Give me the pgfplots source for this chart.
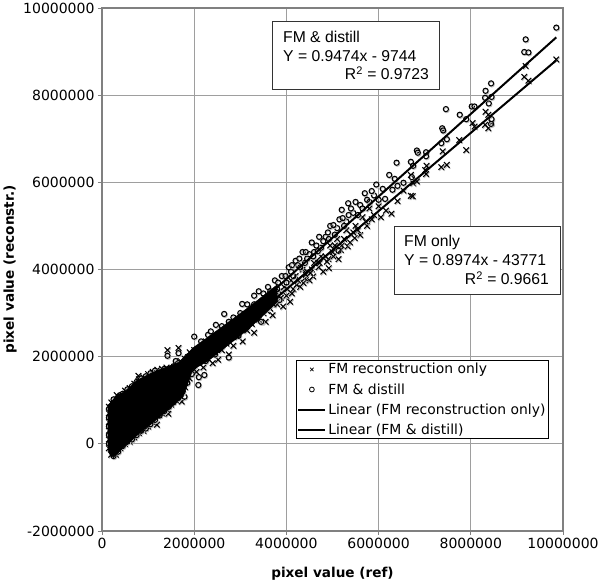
\documentclass[border=0pt]{standalone}
\usepackage{fontspec}
\setmainfont{DejaVu Sans}
\newfontfamily\arialf{Liberation Sans}
\usepackage{pgfplots}
\pgfplotsset{compat=1.18}
\makeatletter
\pgfdeclareplotmark{sx}{%
  \pgfsetlinewidth{1.05pt}%
  \begin{pgfscope}\pgfsetstrokecolor{black!25}\pgftransformshift{\pgfqpoint{0.7pt}{-1pt}}%
    \pgfpathmoveto{\pgfqpoint{-\pgfplotmarksize}{-\pgfplotmarksize}}\pgfpathlineto{\pgfqpoint{\pgfplotmarksize}{\pgfplotmarksize}}%
    \pgfpathmoveto{\pgfqpoint{-\pgfplotmarksize}{\pgfplotmarksize}}\pgfpathlineto{\pgfqpoint{\pgfplotmarksize}{-\pgfplotmarksize}}%
    \pgfusepathqstroke
  \end{pgfscope}%
  \pgfsetstrokecolor{black}%
  \pgfpathmoveto{\pgfqpoint{-\pgfplotmarksize}{-\pgfplotmarksize}}\pgfpathlineto{\pgfqpoint{\pgfplotmarksize}{\pgfplotmarksize}}%
  \pgfpathmoveto{\pgfqpoint{-\pgfplotmarksize}{\pgfplotmarksize}}\pgfpathlineto{\pgfqpoint{\pgfplotmarksize}{-\pgfplotmarksize}}%
  \pgfusepathqstroke
}
\pgfdeclareplotmark{so}{%
  \pgfsetlinewidth{1.05pt}%
  \begin{pgfscope}\pgfsetstrokecolor{black!25}\pgftransformshift{\pgfqpoint{0.7pt}{-1pt}}%
    \pgfpathcircle{\pgfpointorigin}{\pgfplotmarksize}\pgfusepathqstroke
  \end{pgfscope}%
  \pgfsetstrokecolor{black}%
  \pgfpathcircle{\pgfpointorigin}{\pgfplotmarksize}\pgfusepathqstroke
}
\makeatother
\begin{document}
\begin{tikzpicture}
\path[use as bounding box] (-102pt,-52pt) rectangle (498pt,531pt);
\begin{axis}[
  scale only axis, width=461pt, height=523pt,
  xmin=0, xmax=10000000, ymin=-2000000, ymax=10000000,
  xtick={0,2000000,4000000,6000000,8000000,10000000},
  ytick={-2000000,0,2000000,4000000,6000000,8000000,10000000},
  xticklabels={0,2000000,4000000,6000000,8000000,10000000},
  yticklabels={-2000000,0,2000000,4000000,6000000,8000000,10000000},
  scaled ticks=false,
  tick label style={font=\fontsize{14}{16}\selectfont},
  tick align=outside, tick pos=left, major tick length=4pt,
  tick style={black!50,line width=0.8pt},
  grid=major, grid style={black!38,line width=0.8pt},
  axis line style={black!50,line width=1.1pt},
  axis on top=false,
  xlabel={\bfseries pixel value (ref)}, ylabel={\bfseries pixel value (reconstr.)},
  label style={font=\fontsize{13.6}{16}\selectfont\bfseries},
  xlabel style={at={(axis description cs:0.5,0)},anchor=base,yshift=-47pt},
  ylabel style={at={(axis description cs:0,0.5)},anchor=base,yshift=88pt},
  clip=false, clip marker paths=true,
  legend style={at={(0.4208,0.327)},anchor=north west,draw=black,line width=0.9pt,fill=white,
    font=\fontsize{13.9}{16}\selectfont,inner sep=1pt,row sep=4pt,
    /tikz/every even column/.append style={column sep=3pt}},
  legend cell align=left,
  legend image code/.code={\draw[mark repeat=2,mark phase=2,#1] plot coordinates {(0pt,0pt)(13.5pt,0pt)(27pt,0pt)};},
]
\addlegendimage{only marks,mark=x,mark size=2.4pt,line width=0.8pt,black}
\addlegendentry{FM reconstruction only}
\addlegendimage{only marks,mark=o,mark size=2.4pt,line width=0.8pt,black}
\addlegendentry{FM \& distill}
\addlegendimage{black,line width=1.9pt}
\addlegendentry{Linear (FM reconstruction only)}
\addlegendimage{black,line width=1.9pt}
\addlegendentry{Linear (FM \& distill)}

% FM reconstruction only
\addplot[forget plot,only marks,mark=sx,mark size=2.8pt] coordinates {
(.15e6,-.1e6)(.15e6,.1e6)(.15e6,.3e6)(.15e6,.5e6)(.15e6,.7e6)(.15e6,.85e6)
(.2e6,-.25e6)(.2e6,-.05e6)(.2e6,.15e6)(.2e6,.35e6)(.2e6,.55e6)(.2e6,.75e6)(.2e6,.95e6)
(.3e6,-.25e6)(.3e6,-.05e6)(.3e6,.15e6)(.3e6,.35e6)(.3e6,.55e6)(.3e6,.75e6)(.3e6,.95e6)(.32e6,1.12e6)
(.4e6,-.1e6)(.4e6,.1e6)(.4e6,.3e6)(.4e6,.5e6)(.4e6,.7e6)(.4e6,.9e6)(.4e6,1.1e6)
(.5e6,0e6)(.5e6,.2e6)(.5e6,.4e6)(.5e6,.6e6)(.5e6,.8e6)(.5e6,1.0e6)(.5e6,1.22e6)
(.6e6,.05e6)(.6e6,.25e6)(.6e6,.45e6)(.6e6,.65e6)(.6e6,.85e6)(.6e6,1.05e6)(.6e6,1.28e6)
(.7e6,.15e6)(.7e6,.35e6)(.7e6,.55e6)(.7e6,.75e6)(.7e6,.95e6)(.7e6,1.15e6)(.7e6,1.38e6)
(.79e6,1.56e6)
(.8e6,.25e6)(.8e6,.45e6)(.8e6,.65e6)(.8e6,.85e6)(.8e6,1.05e6)(.8e6,1.25e6)(.8e6,1.48e6)
(.9e6,.3e6)(.9e6,.5e6)(.9e6,.7e6)(.9e6,.9e6)(.9e6,1.1e6)(.9e6,1.3e6)(.9e6,1.52e6)
(1.0e6,.4e6)(1.0e6,.6e6)(1.0e6,.8e6)(1.0e6,1.0e6)(1.0e6,1.2e6)(1.0e6,1.4e6)(1.0e6,1.6e6)
(1.1e6,.5e6)(1.1e6,.7e6)(1.1e6,.9e6)(1.1e6,1.1e6)(1.1e6,1.3e6)(1.1e6,1.5e6)(1.1e6,1.65e6)
(1.19e6,.44e6)(1.2e6,.65e6)(1.2e6,.85e6)(1.2e6,1.05e6)(1.2e6,1.25e6)(1.2e6,1.45e6)(1.2e6,1.7e6)
(1.3e6,.7e6)(1.3e6,.9e6)(1.3e6,1.1e6)(1.3e6,1.3e6)(1.3e6,1.5e6)(1.3e6,1.72e6)
(1.4e6,.8e6)(1.4e6,1.0e6)(1.4e6,1.2e6)(1.4e6,1.4e6)(1.4e6,1.6e6)(1.4e6,1.75e6)
(1.44e6,.69e6)(1.42e6,2.15e6)
(1.5e6,.9e6)(1.5e6,1.1e6)(1.5e6,1.3e6)(1.5e6,1.5e6)(1.5e6,1.7e6)
(1.6e6,1.0e6)(1.6e6,1.2e6)(1.6e6,1.4e6)(1.6e6,1.6e6)(1.6e6,1.82e6)
(1.66e6,2.2e6)(1.73e6,.97e6)
(1.7e6,1.1e6)(1.7e6,1.3e6)(1.7e6,1.5e6)(1.7e6,1.7e6)(1.7e6,1.9e6)
(1.8e6,1.3e6)(1.8e6,1.5e6)(1.8e6,1.7e6)(1.8e6,1.95e6)
(1.9e6,1.5e6)(1.9e6,1.7e6)(1.9e6,1.9e6)(1.9e6,2.1e6)
(2.0e6,1.7e6)(2.0e6,1.9e6)(2.0e6,2.15e6)
(2.05e6,1.65e6)(2.05e6,2.05e6)(2.1e6,1.85e6)(2.15e6,2.2e6)(2.2e6,1.75e6)(2.2e6,2.0e6)(2.25e6,2.35e6)(2.3e6,1.95e6)(2.35e6,2.2e6)(2.4e6,1.85e6)(2.4e6,2.45e6)(2.45e6,2.1e6)(2.52e6,1.93e6)(2.55e6,2.35e6)(2.6e6,2.15e6)(2.65e6,2.55e6)(2.7e6,2.3e6)(2.75e6,2.05e6)(2.8e6,2.5e6)(2.85e6,2.25e6)(2.9e6,2.7e6)(2.95e6,2.45e6)(3.0e6,2.65e6)(3.05e6,2.35e6)(3.1e6,2.85e6)(3.15e6,2.6e6)(3.2e6,2.95e6)(3.25e6,2.75e6)(3.3e6,2.55e6)(3.35e6,3.05e6)(3.4e6,2.85e6)(3.45e6,3.2e6)(3.5e6,3.0e6)(3.55e6,2.8e6)(3.6e6,3.3e6)(3.65e6,3.1e6)(3.7e6,2.95e6)(3.75e6,3.4e6)(3.8e6,3.2e6)(3.85e6,3.5e6)(3.93e6,3.15e6)(3.95e6,3.6e6)(4.0e6,3.4e6)(4.08e6,3.26e6)(4.1e6,3.75e6)(4.15e6,3.55e6)(4.2e6,3.85e6)(4.3e6,3.6e6)(4.37e6,3.69e6)(4.35e6,4.0e6)(4.45e6,3.95e6)(4.5e6,3.75e6)(4.58e6,3.84e6)(4.6e6,4.15e6)(4.7e6,4.05e6)(4.75e6,4.3e6)(4.8e6,3.95e6)(4.91e6,4.24e6)(4.92e6,4.03e6)(4.95e6,4.55e6)(5.0e6,4.4e6)(5.13e6,4.24e6)(5.1e6,4.7e6)(5.2e6,4.55e6)(5.33e6,4.53e6)(5.3e6,4.9e6)(5.4e6,4.8e6)(5.5e6,5.0e6)(5.6e6,4.79e6)(5.55e6,4.9e6)(5.65e6,5.2e6)(5.75e6,5.0e6)(5.8e6,5.4e6)(5.9e6,5.25e6)(6.0e6,5.45e6)(6.05e6,5.2e6)
(3.25e6,2.95e6)(3.42e6,3.05e6)(3.58e6,3.05e6)(3.72e6,3.2e6)(3.88e6,3.35e6)(4.02e6,3.55e6)(4.22e6,3.65e6)(4.4e6,3.8e6)(4.55e6,4.0e6)(4.65e6,4.2e6)(4.85e6,4.3e6)(5.05e6,4.55e6)(5.25e6,4.7e6)(5.45e6,4.85e6)
(4.12e6,3.45e6)(4.25e6,3.75e6)(4.42e6,3.88e6)(4.52e6,3.92e6)(4.72e6,4.15e6)(4.88e6,4.18e6)(5.02e6,4.3e6)(5.18e6,4.45e6)(5.38e6,4.62e6)(5.48e6,4.72e6)(5.72e6,5.1e6)(5.85e6,5.15e6)
(6.16e6,5.35e6)(6.28e6,5.28e6)(6.41e6,5.57e6)(6.54e6,5.81e6)(6.70e6,5.69e6)(6.74e6,5.68e6)(6.75e6,5.98e6)(6.83e6,6.02e6)(6.70e6,6.17e6)(7.04e6,6.38e6)(7.01e6,6.28e6)(7.03e6,6.19e6)(7.36e6,6.35e6)(7.48e6,6.40e6)(7.39e6,6.71e6)(7.90e6,6.74e6)(7.75e6,6.97e6)(8.04e6,7.36e6)(8.08e6,7.28e6)(8.31e6,7.32e6)(8.38e6,7.24e6)(8.45e6,7.37e6)(8.32e6,7.62e6)(8.38e6,7.55e6)(9.16e6,8.42e6)(9.25e6,8.33e6)(9.19e6,8.67e6)(9.855e6,8.82e6)
};
% FM & distill
\addplot[forget plot,only marks,mark=so,mark size=2.6pt] coordinates {
(.15e6,0e6)(.15e6,.2e6)(.15e6,.4e6)(.15e6,.6e6)(.15e6,.8e6)
(.25e6,-.28e6)(.25e6,-.1e6)(.25e6,.1e6)(.25e6,.3e6)(.25e6,.5e6)(.25e6,.7e6)(.25e6,.9e6)(.25e6,1.02e6)
(.35e6,-.18e6)(.35e6,.05e6)(.35e6,.25e6)(.35e6,.45e6)(.35e6,.65e6)(.35e6,.85e6)(.35e6,1.05e6)
(.45e6,-.05e6)(.45e6,.15e6)(.45e6,.35e6)(.45e6,.55e6)(.45e6,.75e6)(.45e6,.95e6)(.45e6,1.15e6)
(.55e6,.05e6)(.55e6,.3e6)(.55e6,.5e6)(.55e6,.7e6)(.55e6,.9e6)(.55e6,1.1e6)(.55e6,1.25e6)
(.65e6,.1e6)(.65e6,.35e6)(.65e6,.55e6)(.65e6,.75e6)(.65e6,.95e6)(.65e6,1.15e6)(.65e6,1.32e6)
(.75e6,.2e6)(.75e6,.45e6)(.75e6,.65e6)(.75e6,.85e6)(.75e6,1.05e6)(.75e6,1.25e6)(.75e6,1.42e6)
(.85e6,.3e6)(.85e6,.55e6)(.85e6,.75e6)(.85e6,.95e6)(.85e6,1.15e6)(.85e6,1.35e6)(.85e6,1.5e6)
(.95e6,.35e6)(.95e6,.5e6)(.95e6,.7e6)(.95e6,.95e6)(.95e6,1.15e6)(.95e6,1.35e6)(.95e6,1.55e6)
(1.05e6,.45e6)(1.05e6,.65e6)(1.05e6,.85e6)(1.05e6,1.05e6)(1.05e6,1.25e6)(1.05e6,1.45e6)(1.05e6,1.62e6)
(1.15e6,.55e6)(1.15e6,.75e6)(1.15e6,.95e6)(1.15e6,1.15e6)(1.15e6,1.35e6)(1.15e6,1.55e6)(1.15e6,1.68e6)
(1.25e6,.65e6)(1.25e6,.8e6)(1.25e6,1.0e6)(1.25e6,1.2e6)(1.25e6,1.4e6)(1.25e6,1.6e6)
(1.35e6,.75e6)(1.35e6,.95e6)(1.35e6,1.15e6)(1.35e6,1.35e6)(1.35e6,1.55e6)(1.35e6,1.72e6)
(1.42e6,2.02e6)(1.45e6,.85e6)(1.45e6,1.05e6)(1.45e6,1.25e6)(1.45e6,1.45e6)(1.45e6,1.65e6)
(1.55e6,.95e6)(1.55e6,1.15e6)(1.55e6,1.35e6)(1.55e6,1.55e6)(1.55e6,1.78e6)
(1.6e6,1.9e6)(1.66e6,2.08e6)(1.79e6,1.08e6)
(1.65e6,1.05e6)(1.65e6,1.25e6)(1.65e6,1.45e6)(1.65e6,1.65e6)(1.65e6,1.85e6)
(1.75e6,1.2e6)(1.75e6,1.4e6)(1.75e6,1.6e6)(1.75e6,1.8e6)
(1.85e6,1.4e6)(1.85e6,1.6e6)(1.85e6,1.8e6)(1.85e6,2.0e6)
(1.95e6,1.6e6)(1.95e6,1.8e6)(1.95e6,2.0e6)
(2.0e6,2.46e6)(2.05e6,1.9e6)(2.09e6,1.35e6)(2.1e6,1.53e6)(2.1e6,2.2e6)(2.15e6,2.35e6)(2.22e6,1.58e6)(2.2e6,2.05e6)(2.25e6,1.9e6)(2.3e6,2.5e6)(2.36e6,2.58e6)(2.35e6,2.15e6)(2.4e6,2.35e6)(2.47e6,2.73e6)(2.45e6,2.05e6)(2.5e6,2.5e6)(2.55e6,2.25e6)(2.65e6,2.98e6)(2.6e6,2.7e6)(2.7e6,2.4e6)(2.75e6,1.98e6)(2.75e6,2.8e6)(2.8e6,2.65e6)(2.85e6,2.9e6)(2.9e6,2.55e6)(2.96e6,2.48e6)(3.0e6,3.0e6)(3.04e6,3.21e6)(3.1e6,2.8e6)(3.15e6,3.2e6)(3.2e6,3.05e6)(3.25e6,2.85e6)(3.3e6,3.4e6)(3.35e6,3.15e6)(3.45e6,2.8e6)(3.4e6,3.5e6)(3.5e6,3.3e6)(3.55e6,3.1e6)(3.6e6,3.6e6)(3.7e6,3.4e6)(3.75e6,3.75e6)(3.8e6,3.55e6)(3.85e6,3.3e6)(3.9e6,3.85e6)(4.0e6,3.7e6)(4.05e6,4.05e6)(4.15e6,3.85e6)(4.2e6,4.2e6)(4.3e6,4.05e6)(4.35e6,4.4e6)(4.45e6,4.25e6)(4.55e6,4.62e6)(4.6e6,4.4e6)(4.71e6,4.75e6)(4.75e6,4.5e6)(4.85e6,4.75e6)(4.95e6,5.0e6)(5.05e6,4.8e6)(5.13e6,4.43e6)(5.15e6,5.15e6)(5.2e6,5.37e6)(5.25e6,5.0e6)(5.34e6,5.52e6)(5.35e6,5.25e6)(5.45e6,5.3e6)(5.5e6,5.55e6)(5.6e6,5.48e6)(5.65e6,5.4e6)(5.7e6,5.75e6)(5.8e6,5.55e6)(5.9e6,5.7e6)(5.95e6,5.95e6)(6.0e6,5.6e6)
(3.3e6,3.2e6)(3.5e6,3.45e6)(3.65e6,3.5e6)(3.82e6,3.7e6)(3.98e6,3.85e6)(4.1e6,3.95e6)(4.25e6,4.1e6)(4.4e6,4.15e6)(4.5e6,4.35e6)(4.65e6,4.55e6)(4.8e6,4.65e6)(4.9e6,4.85e6)(5.1e6,4.95e6)(5.3e6,5.1e6)
(4.12e6,4.1e6)(4.28e6,4.25e6)(4.42e6,4.4e6)(4.58e6,4.3e6)(4.68e6,4.42e6)(4.92e6,4.7e6)(5.02e6,5.02e6)(5.22e6,5.18e6)(5.4e6,5.4e6)(5.55e6,5.25e6)(5.75e6,5.6e6)(5.85e6,5.8e6)
(6.14e6,5.62e6)(6.09e6,5.85e6)(6.30e6,5.83e6)(6.41e6,5.92e6)(6.54e6,5.99e6)(6.72e6,6.12e6)(6.23e6,6.17e6)(6.35e6,6.08e6)(6.39e6,6.45e6)(6.70e6,6.47e6)(6.75e6,6.38e6)(6.83e6,6.73e6)(6.85e6,6.68e6)(7.03e6,6.69e6)(7.03e6,6.60e6)(7.48e6,6.99e6)(7.36e6,6.90e6)(7.38e6,7.24e6)(7.40e6,7.19e6)(7.46e6,7.68e6)(7.76e6,7.55e6)(7.90e6,7.45e6)(8.02e6,7.74e6)(8.08e6,7.74e6)(8.45e6,7.45e6)(8.44e6,7.34e6)(8.39e6,7.81e6)(8.31e6,7.94e6)(8.45e6,7.96e6)(8.32e6,8.10e6)(8.44e6,8.27e6)(9.16e6,8.99e6)(9.25e6,8.98e6)(9.19e6,9.28e6)(9.855e6,9.55e6)
};
% the over-plotted core of both series, where single marks cannot be told apart
\addplot[forget plot,fill=black,draw=black] coordinates {
(.13e6,-.1e6)(.13e6,.88e6)(.2e6,.96e6)(.32e6,1.12e6)(.5e6,1.2e6)(.76e6,1.46e6)(1.19e6,1.68e6)(1.69e6,1.88e6)(1.97e6,2.2e6)(2.3e6,2.45e6)(3.2e6,3.15e6)(3.8e6,3.65e6)
(3.8e6,3.25e6)(3.2e6,2.65e6)(2.3e6,1.9e6)(1.97e6,1.7e6)(1.76e6,1.08e6)(1.26e6,.62e6)(.82e6,.25e6)(.5e6,-.05e6)(.3e6,-.26e6)(.2e6,-.3e6)(.14e6,-.18e6)(.13e6,-.1e6)
};
\addplot[forget plot,black,line width=2pt] coordinates {(200000,135709)(9855000,8800000)};
\addplot[forget plot,black,line width=2pt] coordinates {(200000,179736)(9855000,9326859)};
\end{axis}
% equation boxes
\draw[black!80,line width=0.9pt,fill=white] (170.7pt,441.7pt) rectangle (337.3pt,509.3pt);
\begin{scope}[every node/.style={inner sep=0pt,font=\arialf\fontsize{15.7}{18}\selectfont}]
\node[anchor=base west] at (181pt,488.7pt) {FM \& distill};
\node[anchor=base west] at (181pt,469.3pt) {Y = 0.9474x - 9744};
\node[anchor=base east] at (327pt,451pt) {R\textsuperscript{2} = 0.9723};
\end{scope}
\draw[black!80,line width=0.9pt,fill=white] (292pt,236.7pt) rectangle (458.7pt,304.3pt);
\begin{scope}[every node/.style={inner sep=0pt,font=\arialf\fontsize{15.7}{18}\selectfont}]
\node[anchor=base west] at (302pt,284.3pt) {FM only};
\node[anchor=base west] at (302pt,265pt) {Y = 0.8974x - 43771};
\node[anchor=base east] at (447pt,246pt) {R\textsuperscript{2} = 0.9661};
\end{scope}
\end{tikzpicture}
\end{document}
